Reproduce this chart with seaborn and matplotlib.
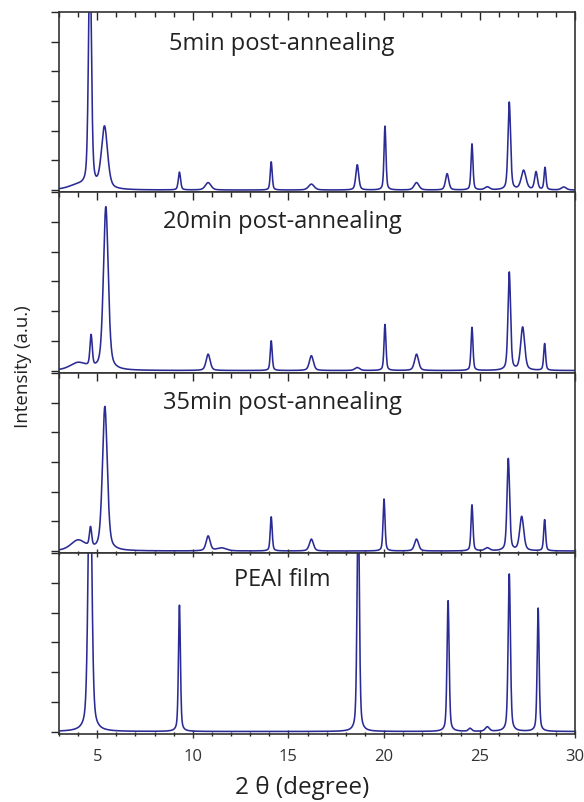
import numpy as np
import pandas as pd
import matplotlib
matplotlib.use("Agg")
import matplotlib.pyplot as plt
import seaborn as sns
from matplotlib.ticker import MultipleLocator

sns.set_style("ticks")
plt.rcParams['font.family'] = ['Open Sans', 'DejaVu Sans']

# ---- data: peak positions (deg), heights (norm.), FWHM (deg)
labels = ["5min post-annealing", "20min post-annealing", "35min post-annealing", "PEAI film"]

pos_5 = [4.0, 4.62, 5.38, 9.3, 10.8, 14.1, 16.2, 18.6, 20.05, 21.7, 23.3, 24.6, 25.4, 26.55, 27.3, 27.95, 28.42, 29.4]
hgt_5 = [0.03, 1.60, 0.42, 0.12, 0.05, 0.19, 0.04, 0.17, 0.43, 0.05, 0.11, 0.31, 0.02, 0.59, 0.13, 0.12, 0.15, 0.02]
wid_5 = [1.2, 0.18, 0.38, 0.14, 0.35, 0.12, 0.35, 0.18, 0.12, 0.3, 0.2, 0.12, 0.3, 0.16, 0.3, 0.18, 0.12, 0.3]

pos_20 = [4.0, 4.68, 5.45, 10.8, 14.1, 16.2, 18.6, 20.05, 21.7, 24.6, 26.55, 27.25, 28.4]
hgt_20 = [0.05, 0.21, 1.10, 0.11, 0.20, 0.10, 0.02, 0.31, 0.11, 0.29, 0.66, 0.29, 0.18]
wid_20 = [1.0, 0.14, 0.30, 0.25, 0.12, 0.25, 0.3, 0.12, 0.25, 0.12, 0.16, 0.25, 0.12]

pos_35 = [4.0, 4.65, 5.4, 10.8, 11.5, 14.1, 16.2, 20.0, 21.7, 24.6, 25.4, 26.5, 27.2, 28.4]
hgt_35 = [0.07, 0.13, 0.97, 0.10, 0.02, 0.23, 0.08, 0.35, 0.08, 0.31, 0.02, 0.62, 0.23, 0.21]
wid_35 = [0.9, 0.14, 0.30, 0.25, 0.6, 0.12, 0.25, 0.12, 0.25, 0.12, 0.3, 0.16, 0.25, 0.12]

pos_pe = [4.62, 9.3, 18.65, 23.35, 24.5, 25.4, 26.55, 28.06]
hgt_pe = [2.00, 0.85, 1.60, 0.88, 0.02, 0.03, 1.06, 0.83]
wid_pe = [0.22, 0.12, 0.14, 0.13, 0.2, 0.25, 0.14, 0.12]

peak_sets = [(pos_5, hgt_5, wid_5), (pos_20, hgt_20, wid_20),
             (pos_35, hgt_35, wid_35), (pos_pe, hgt_pe, wid_pe)]

two_theta = np.linspace(3, 30, 2701)

def profile(pos, hgt, wid, eta=0.45):
    y = np.zeros_like(two_theta)
    for p, h, w in zip(pos, hgt, wid):
        g = 0.5 * w
        lor = g**2 / ((two_theta - p)**2 + g**2)
        gau = np.exp(-np.log(2) * ((two_theta - p) / g)**2)
        y += h * (eta * lor + (1 - eta) * gau)
    return y

frames = []
for lab, (p, h, w) in zip(labels, peak_sets):
    frames.append(pd.DataFrame({"two_theta": two_theta, "intensity": profile(p, h, w), "sample": lab}))
df = pd.concat(frames, ignore_index=True)

fig, axes = plt.subplots(4, 1, figsize=(5.84, 8.03), dpi=100, sharex=True)
fig.subplots_adjust(left=0.101, right=0.985, top=0.984, bottom=0.085, hspace=0)

line_color = "#2b2b95"
text_y = [0.83, 0.84, 0.84, 0.855]
for i, (ax, lab) in enumerate(zip(axes, labels)):
    sub = df[df["sample"] == lab]
    sns.lineplot(data=sub, x="two_theta", y="intensity", ax=ax, color=line_color, lw=1.15)
    ax.set_xlim(3, 30)
    ax.set_ylim(-0.015, 1.2)
    ax.set_yticks(np.arange(0, 1.21, 0.2))
    ax.set_yticklabels([])
    ax.set_ylabel("")
    ax.set_xlabel("")
    ax.xaxis.set_major_locator(MultipleLocator(5))
    ax.xaxis.set_minor_locator(MultipleLocator(1))
    ax.tick_params(axis='y', direction='out', length=6, width=1, left=True, right=False)
    if i < 3:
        ax.tick_params(axis='x', which='both', bottom=False, top=True, direction='in')
    else:
        ax.tick_params(axis='x', which='both', bottom=True, top=True, direction='out')
    ax.tick_params(axis='x', which='major', length=6, width=1)
    ax.tick_params(axis='x', which='minor', length=3.5, width=1)
    for s in ax.spines.values():
        s.set_linewidth(1.2)
        s.set_color("#333333")
    ax.text(0.432, text_y[i], lab, transform=ax.transAxes, ha='center', va='center',
            fontsize=17, color="#222222")

axes[3].tick_params(axis='x', which='both', top=True, direction='inout')
axes[3].xaxis.set_tick_params(which='both', labeltop=False)
axes[3].tick_params(axis='x', labelsize=12, pad=7, colors="#333333", labelcolor="#333333")
fig.text(0.518, 0.019, "2 θ (degree)", ha='center', va='center', fontsize=17.5, color="#222222")
fig.text(0.039, 0.543, "Intensity (a.u.)", rotation=90, ha='center', va='center',
         fontsize=13.5, color="#222222")

fig.savefig("out.png", dpi=100)
